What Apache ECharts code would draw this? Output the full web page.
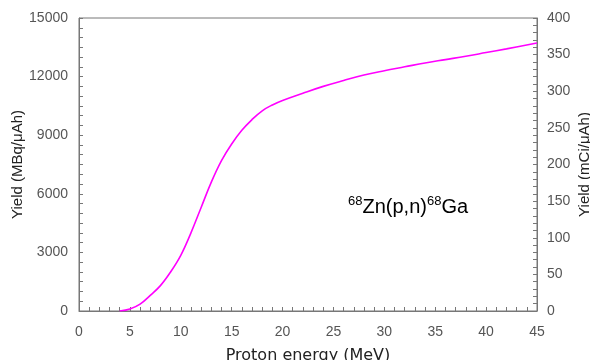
<!DOCTYPE html>
<html><head><meta charset="utf-8">
<script src="https://cdn.jsdelivr.net/npm/echarts@6/dist/echarts.min.js"></script>
<style>html,body{margin:0;padding:0;background:#fff}#c{width:590px;height:360px}</style>
</head><body><div id="c"></div>
<script>
const energy = [4, 5, 6, 7, 8, 9, 10, 11, 12, 13, 14, 15, 16, 17, 18, 19, 20, 22, 24, 26, 28, 30, 32, 34, 36, 38, 40, 42, 45];
const yieldMBq = [0, 100, 350, 800, 1300, 2000, 2850, 4000, 5300, 6600, 7700, 8550, 9250, 9800, 10250, 10550, 10780, 11150, 11500, 11800, 12080, 12300, 12500, 12700, 12870, 13040, 13230, 13420, 13720];
const xTicks = [0, 5, 10, 15, 20, 25, 30, 35, 40, 45];
const leftTicks = [0, 3000, 6000, 9000, 12000, 15000];
const rightTicks = [0, 50, 100, 150, 200, 250, 300, 350, 400];

const chart = echarts.init(document.getElementById('c'));
const axisCol = '#777';
const lblCol = '#555';
const font = 'Liberation Sans, Arial, sans-serif';
chart.setOption({
  animation: false,
  grid: {left: 79, right: 53, top: 18, bottom: 49, show: true, borderColor: axisCol, borderWidth: 1, containLabel: false, outerBoundsMode: 'none'},
  xAxis: {
    type: 'value', min: xTicks[0], max: xTicks[xTicks.length-1], interval: 5,
    name: 'Proton energy (MeV)', nameLocation: 'middle', nameGap: 37, nameMoveOverlap: false,
    nameTextStyle: {fontFamily: 'DejaVu Sans, sans-serif', fontSize: 16, color: '#222'},
    axisLine: {lineStyle: {color: axisCol}},
    axisTick: {inside: true, length: 4, lineStyle: {color: axisCol}},
    minorTick: {show: true, splitNumber: 5, length: 4, lineStyle: {color: axisCol}},
    splitLine: {show: false},
    axisLabel: {fontFamily: font, fontSize: 14, color: lblCol, margin: 14}
  },
  yAxis: [{
    type: 'value', min: 0, max: 15000, interval: 3000,
    name: 'Yield (MBq/μAh)', nameLocation: 'middle', nameGap: 54, nameRotate: 90, nameMoveOverlap: false,
    nameTextStyle: {fontFamily: font, fontSize: 15, color: '#222'},
    axisLine: {show: true, lineStyle: {color: axisCol}},
    axisTick: {show: true, inside: true, length: 4, lineStyle: {color: axisCol}},
    minorTick: {show: true, splitNumber: 6, length: 4, lineStyle: {color: axisCol}},
    splitLine: {show: false},
    axisLabel: {fontFamily: font, fontSize: 14, color: lblCol, margin: 11, formatter: v => String(v)}
  }, {
    type: 'value', min: 0, max: 400, interval: 50, position: 'right',
    name: 'Yield (mCi/μAh)', nameLocation: 'middle', nameGap: 40, nameRotate: 90, nameMoveOverlap: false,
    nameTextStyle: {fontFamily: font, fontSize: 15, color: '#222'},
    axisLine: {show: true, lineStyle: {color: axisCol}},
    axisTick: {show: true, inside: true, length: 4, lineStyle: {color: axisCol}},
    minorTick: {show: true, splitNumber: 5, length: 4, lineStyle: {color: axisCol}},
    splitLine: {show: false},
    axisLabel: {fontFamily: font, fontSize: 14, color: lblCol, margin: 10}
  }],
  series: [{
    type: 'line', yAxisIndex: 0, smooth: 0.4, symbol: 'none',
    data: energy.map((e, i) => [e, yieldMBq[i]]),
    lineStyle: {color: '#ff00ff', width: 1.6}
  }],
  graphic: [{
    type: 'text', left: 348, top: 195,
    style: {
      text: '{s|68}{m|Zn(p,n)}{s|68}{m|Ga}',
      rich: {
        s: {fontFamily: font, fontSize: 13, color: '#222', verticalAlign: 'top', lineHeight: 25},
        m: {fontFamily: font, fontSize: 20, color: '#222', lineHeight: 25}
      }
    }
  }]
});
</script></body></html>
